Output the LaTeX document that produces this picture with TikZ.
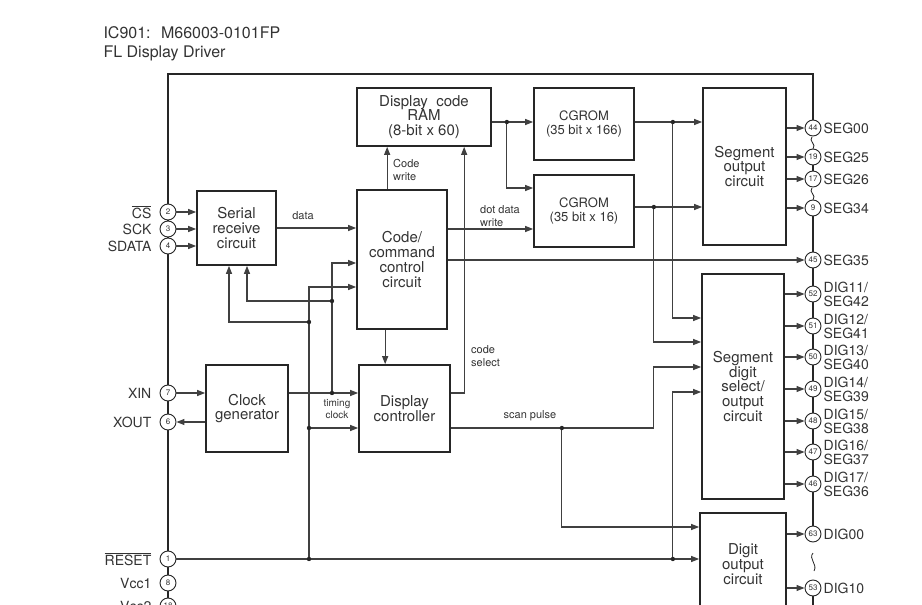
\documentclass[tikz,border=0pt]{standalone}
\usepackage{fontspec}
\setmainfont{TeX Gyre Heros}
\usetikzlibrary{arrows.meta}
\newcommand{\ovl}[1]{$\overline{\hbox{#1}}$}

\begin{document}
\begin{tikzpicture}[x=1pt,y=-1pt,
  blk/.style={draw=black!85, line width=1.7pt, align=center, text=black!80,
    font=\fontsize{15}{14.7}\selectfont, inner sep=0pt},
  cgfont/.style={font=\fontsize{13}{14}\selectfont},
  pad/.style={circle, draw=black!85, line width=0.9pt, fill=white, minimum size=16pt,
    inner sep=0pt, text=black!80, font=\fontsize{8}{8}\selectfont},
  plbl/.style={text=black!80, font=\fontsize{14}{14}\selectfont, align=left, inner sep=0pt},
  lpin/.style={label={[plbl,label distance=8pt]left:#1}},
  rpin/.style={label={[plbl,label distance=2pt]right:#1}},
  conn/.style={draw=black!75, line width=1.1pt, -{Triangle[length=8pt,width=6pt]}},
  sig/.style={text=black!80, font=\fontsize{11}{13}\selectfont, align=left, inner sep=0pt},
  edge/.style={draw=black!85, line width=2.3pt},
  wiggle/.style={draw=black!85, line width=0.8pt},
  jdot/.style={fill=black!85}]
  \useasboundingbox (0,0) rectangle (922,605);

  % Title
  \node[anchor=base west, text=black!80, font=\fontsize{16}{18}\selectfont] (title1) at (100,38) {IC901:~ M66003-0101FP};
  \node[anchor=base west, text=black!80, font=\fontsize{16}{18}\selectfont] (title2) at (100,57) {FL Display Driver};

  % Chip outline
  \draw[edge] (168,605) -- (168,74) -- (813,74) -- (813,128);
  \draw[edge] (813,157) -- (813,179);
  \draw[edge] (813,208) -- (813,534);
  \draw[edge] (813,588) -- (813,605);
  \draw[wiggle] (812,137) .. controls (808,141) and (817,144) .. (813,149);
  \draw[wiggle] (812,188) .. controls (808,192) and (817,195) .. (813,200);
  \draw[wiggle] (813,553) .. controls (808,559) and (818,564) .. (814,571);

  % Blocks
  \node[blk, minimum width=79pt, minimum height=74pt] (serial) at (236.5,228) {Serial\\receive\\circuit};
  \node[blk, minimum width=90pt, minimum height=139pt] (code) at (402,259.5) {Code/\\command\\control\\circuit};
  \node[blk, minimum width=82pt, minimum height=87pt] (clk) at (247,408.5) {Clock\\generator};
  \node[blk, minimum width=91pt, minimum height=87pt] (disp) at (404.5,408.5) {Display\\controller};
  \node[blk, minimum width=134pt, minimum height=58pt] (ram) at (424,117) {Display~ code\\RAM\\(8-bit x 60)};
  \node[blk, cgfont, minimum width=100pt, minimum height=72pt] (cg1) at (584,124) {CGROM\\(35 bit x 166)};
  \node[blk, cgfont, minimum width=100pt, minimum height=72pt] (cg2) at (584,211) {CGROM\\(35 bit x 16)};
  \node[blk, minimum width=83pt, minimum height=157pt] (segout) at (744.5,166.5) {Segment\\output\\circuit};
  \node[blk, minimum width=82pt, minimum height=225pt] (sdsel) at (743,386.5) {Segment\\digit\\select/\\output\\circuit};
  \node[blk, minimum width=86pt, minimum height=102pt] (digout) at (743,564) {Digit\\output\\circuit};

  % Left pins
  \node[pad, lpin=\ovl{CS}] (p2) at (168,212) {2};
  \node[pad, lpin=SCK] (p3) at (168,229) {3};
  \node[pad, lpin=SDATA] (p4) at (168,246) {4};
  \node[pad, lpin=XIN] (p7) at (168,393) {7};
  \node[pad, lpin=XOUT] (p6) at (168,422) {6};
  \node[pad, lpin=\ovl{RESET}] (p1) at (168,559) {1};
  \node[pad, lpin=Vcc1] (p8) at (168,583) {8};
  \node[pad, lpin=Vcc2] (p18) at (168,606) {18};

  % Right pins
  \node[pad, rpin=SEG00] (p44) at (813,128) {44};
  \node[pad, rpin=SEG25] (p19) at (813,157) {19};
  \node[pad, rpin=SEG26] (p17) at (813,179) {17};
  \node[pad, rpin=SEG34] (p9) at (813,208) {9};
  \node[pad, rpin=SEG35] (p45) at (813,260) {45};
  \node[pad, rpin={DIG11/\\SEG42}] (p52) at (813,294) {52};
  \node[pad, rpin={DIG12/\\SEG41}] (p51) at (813,326) {51};
  \node[pad, rpin={DIG13/\\SEG40}] (p50) at (813,357) {50};
  \node[pad, rpin={DIG14/\\SEG39}] (p49) at (813,389) {49};
  \node[pad, rpin={DIG15/\\SEG38}] (p48) at (813,421) {48};
  \node[pad, rpin={DIG16/\\SEG37}] (p47) at (813,452) {47};
  \node[pad, rpin={DIG17/\\SEG36}] (p46) at (813,484) {46};
  \node[pad, rpin=DIG00] (p63) at (813,534) {63};
  \node[pad, rpin=DIG10] (p53) at (813,588) {53};

  % Inputs
  \draw[conn] (p2) -- (p2 -| serial.west);
  \draw[conn] (p3) -- (p3 -| serial.west);
  \draw[conn] (p4) -- (p4 -| serial.west);
  \draw[conn] (p7) -- (p7 -| clk.west);
  \draw[conn] (p6 -| clk.west) -- (p6);
  \draw[conn] (p1) -- (p1 -| digout.west);

  % Data path
  \draw[conn] (serial.east) -- (serial.east -| code.west);
  \node[sig] (ldata) at (303,216) {data};
  \draw[conn] ([xshift=31]code.north west) -- ([xshift=31]ram.south west);
  \node[sig, anchor=west] (lwrite) at (393,170) {Code\\write};
  \draw[conn] ([xshift=29]code.south west) -- ([xshift=29]code.south west |- disp.north);
  \draw[conn] (p7 -| disp.east) -| ([xshift=108]ram.south west);
  \node[sig, anchor=west] (lsel) at (471,356) {code\\select};
  \coordinate (dotin) at ([yshift=-18]cg2.west);
  \draw[conn] (dotin -| code.east) -- (dotin);
  \node[sig, anchor=west] (ldot) at (480,216) {dot data\\write};
  \draw[conn] (p45 -| code.east) -- (p45);

  % RAM to CGROM
  \coordinate (ramout) at ([yshift=-5]ram.east);
  \coordinate (ramtap) at ([xshift=15]ramout);
  \draw[conn] (ramout) -- (ramout -| cg1.west);
  \draw[conn] (ramtap) |- ([yshift=23]cg2.west);
  \fill[jdot] (ramtap) circle[radius=2.2pt];

  % CGROM to segment outputs
  \coordinate (cg1out) at ([yshift=2]cg1.east);
  \coordinate (cg1tap) at ([xshift=38]cg1out);
  \draw[conn] (cg1out) -- (cg1out -| segout.west);
  \draw[conn] (cg1tap) |- ([yshift=68.5]sdsel.west);
  \fill[jdot] (cg1tap) circle[radius=2.2pt];
  \coordinate (cg2out) at ([yshift=4]cg2.east);
  \coordinate (cg2tap) at ([xshift=19]cg2out);
  \draw[conn] (cg2out) -- (cg2out -| segout.west);
  \draw[conn] (cg2tap) |- ([yshift=44.5]sdsel.west);
  \fill[jdot] (cg2tap) circle[radius=2.2pt];

  % Timing clock
  \draw[conn] (p7 -| clk.east) -- (p7 -| disp.west);
  \coordinate (tclk) at (332,393);
  \coordinate (tclk2) at (332,301);
  \draw[conn] (tclk) |- ([yshift=-3.5]code.west);
  \draw[conn] (tclk2) -| ([xshift=10.5]serial.south);
  \fill[jdot] (tclk) circle[radius=2.2pt];
  \fill[jdot] (tclk2) circle[radius=2.2pt];
  \node[sig, align=center, font=\fontsize{10}{12}\selectfont] (ltim) at (337,409) {timing\\clock};

  % Reset
  \coordinate (rbus) at (309,559);
  \coordinate (rbus2) at (309,428);
  \coordinate (rbus3) at (309,322);
  \draw[conn] (rbus) |- ([yshift=-27.5]code.west);
  \draw[conn] (rbus2) -- (rbus2 -| disp.west);
  \draw[conn] (rbus3) -| ([xshift=-7.5]serial.south);
  \fill[jdot] (rbus) circle[radius=2.2pt];
  \fill[jdot] (rbus2) circle[radius=2.2pt];
  \fill[jdot] (rbus3) circle[radius=2.2pt];
  \coordinate (rtap) at (p1 -| cg1tap);
  \draw[conn] (rtap) |- ([yshift=-5.5]sdsel.west);
  \fill[jdot] (rtap) circle[radius=2.2pt];

  % Scan pulse
  \coordinate (scan) at ([yshift=-19.5]disp.east);
  \coordinate (scantap) at ([xshift=111]scan);
  \draw[conn] (scan) -- (scan -| cg2tap) |- ([yshift=19.5]sdsel.west);
  \draw[conn] (scantap) |- ([yshift=37]digout.west);
  \fill[jdot] (scantap) circle[radius=2.2pt];
  \node[sig] (lscan) at (530,416) {scan pulse};

  % Outputs
  \draw[conn] (p44 -| segout.east) -- (p44);
  \draw[conn] (p19 -| segout.east) -- (p19);
  \draw[conn] (p17 -| segout.east) -- (p17);
  \draw[conn] (p9 -| segout.east) -- (p9);
  \draw[conn] (p52 -| sdsel.east) -- (p52);
  \draw[conn] (p51 -| sdsel.east) -- (p51);
  \draw[conn] (p50 -| sdsel.east) -- (p50);
  \draw[conn] (p49 -| sdsel.east) -- (p49);
  \draw[conn] (p48 -| sdsel.east) -- (p48);
  \draw[conn] (p47 -| sdsel.east) -- (p47);
  \draw[conn] (p46 -| sdsel.east) -- (p46);
  \draw[conn] (p63 -| digout.east) -- (p63);
  \draw[conn] (p53 -| digout.east) -- (p53);
\end{tikzpicture}
\end{document}
